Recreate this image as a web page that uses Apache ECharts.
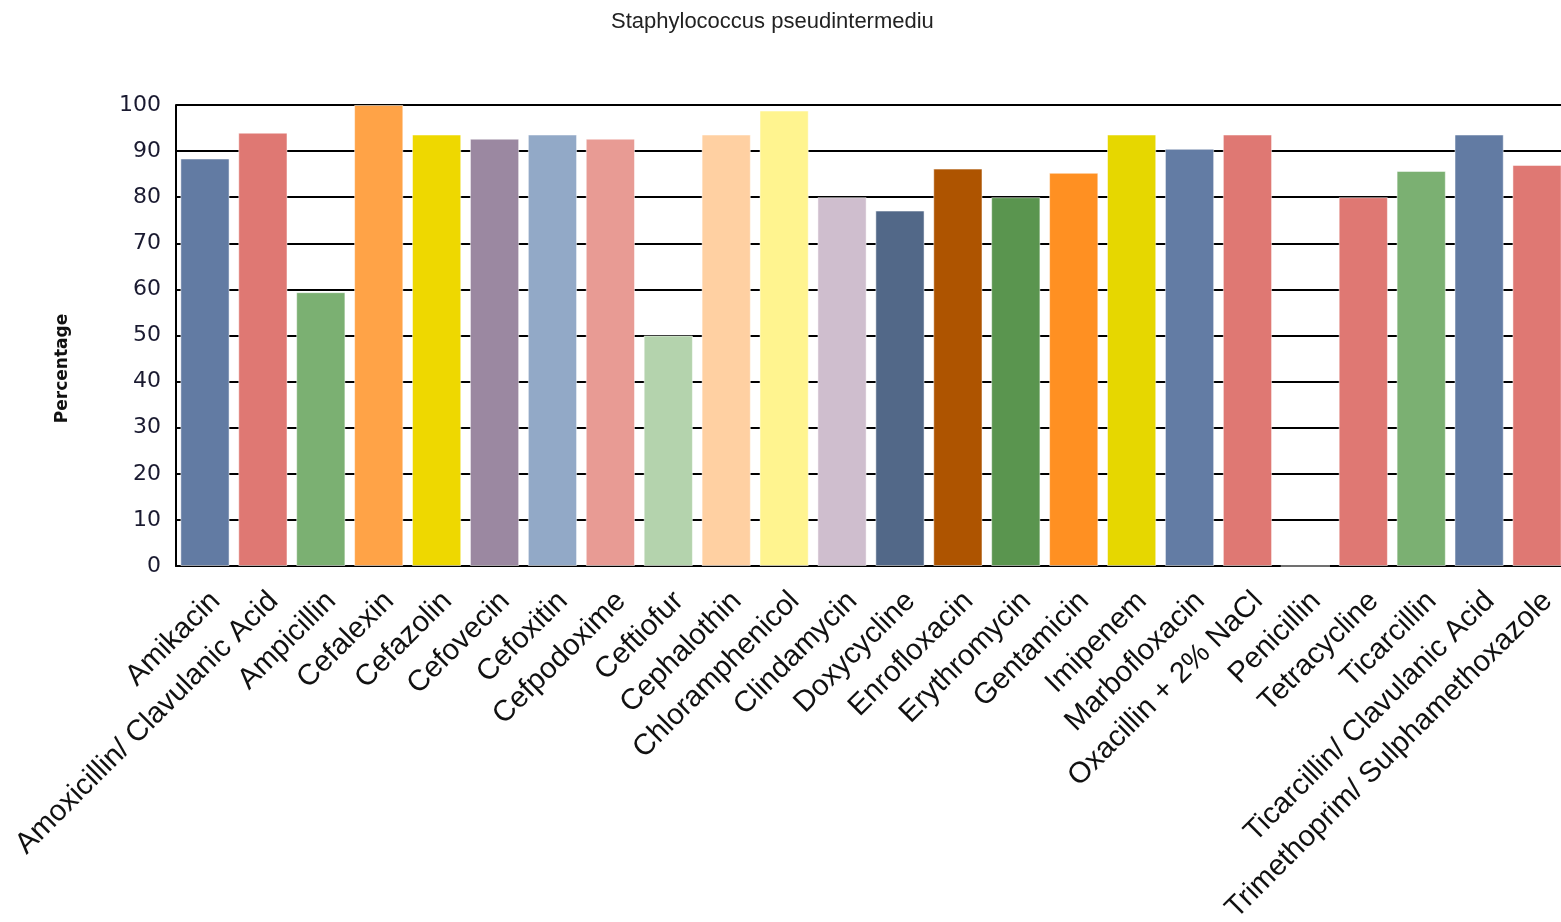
<!DOCTYPE html>
<html>
<head>
<meta charset="utf-8">
<script src="https://cdn.jsdelivr.net/npm/echarts@6/dist/echarts.min.js"></script>
<style>html,body{margin:0;padding:0;background:#fff;}#c{width:1561px;height:922px;}</style>
</head>
<body>
<div id="c"></div>
<script>
const categories = ["Amikacin","Amoxicillin/ Clavulanic Acid","Ampicillin","Cefalexin","Cefazolin","Cefovecin","Cefoxitin","Cefpodoxime","Ceftiofur","Cephalothin","Chloramphenicol","Clindamycin","Doxycycline","Enrofloxacin","Erythromycin","Gentamicin","Imipenem","Marbofloxacin","Oxacillin + 2% NaCl","Penicillin","Tetracycline","Ticarcillin","Ticarcillin/ Clavulanic Acid","Trimethoprim/ Sulphamethoxazole"];
const values = [88.4,94.0,59.4,100,93.6,92.7,93.6,92.7,50,93.6,98.8,80,77.1,86.2,80,85.3,93.6,90.5,93.6,0,80,85.7,93.6,87];
const colors = ["#627BA3","#DF7873","#7BB072","#FFA347","#EED800","#9B88A1","#92A9C7","#E89B94","#B4D3AD","#FFD0A2","#FFF48F","#CFBECE","#526888","#AE5400","#5A954F","#FF9022","#E6D700","#637CA4","#DF7873","#DF7873","#DF7873","#7BB072","#627BA3","#DF7873"];
const yTicks = [0,10,20,30,40,50,60,70,80,90,100];

const chart = echarts.init(document.getElementById('c'));
chart.setOption({
  animation: false,
  title: {
    text: 'Staphylococcus pseudintermediu',
    left: 606, top: 6,
    textStyle: {fontFamily: 'Liberation Sans', fontSize: 22, fontWeight: 'normal', color: '#222'}
  },
  grid: {left: 176, width: 1390, top: 105, bottom: 356, containLabel: false, outerBoundsMode: 'none'},
  xAxis: {
    type: 'category',
    data: categories,
    axisLine: {show: true, lineStyle: {color: '#000', width: 2}},
    axisTick: {show: false},
    axisLabel: {
      interval: 0, rotate: 45, margin: 20, verticalAlign: 'top',
      fontFamily: 'Liberation Sans', fontSize: 29.5, color: '#111'
    }
  },
  yAxis: {
    type: 'value', min: 0, max: 100, interval: 10,
    name: 'Percentage', nameLocation: 'middle', nameGap: 105,
    nameTextStyle: {fontFamily: 'DejaVu Sans', fontSize: 17, fontWeight: 'bold', color: '#111', padding: [0, 66, 0, 0]},
    axisLine: {show: true, lineStyle: {color: '#000', width: 2}},
    axisTick: {show: false},
    axisLabel: {
      fontFamily: 'DejaVu Sans', fontSize: 22, color: '#1a1a30', margin: 15,
      formatter: v => yTicks.includes(v) ? String(v) : ''
    },
    splitLine: {show: true, lineStyle: {color: '#000', width: 2}}
  },
  series: [{
    type: 'bar',
    data: values.map((v, i) => ({value: v, itemStyle: {color: colors[i]}})),
    barCategoryGap: '15%',
    itemStyle: {borderColor: 'rgba(255,255,255,0.5)', borderWidth: 1}
  }]
});
</script>
</body>
</html>
